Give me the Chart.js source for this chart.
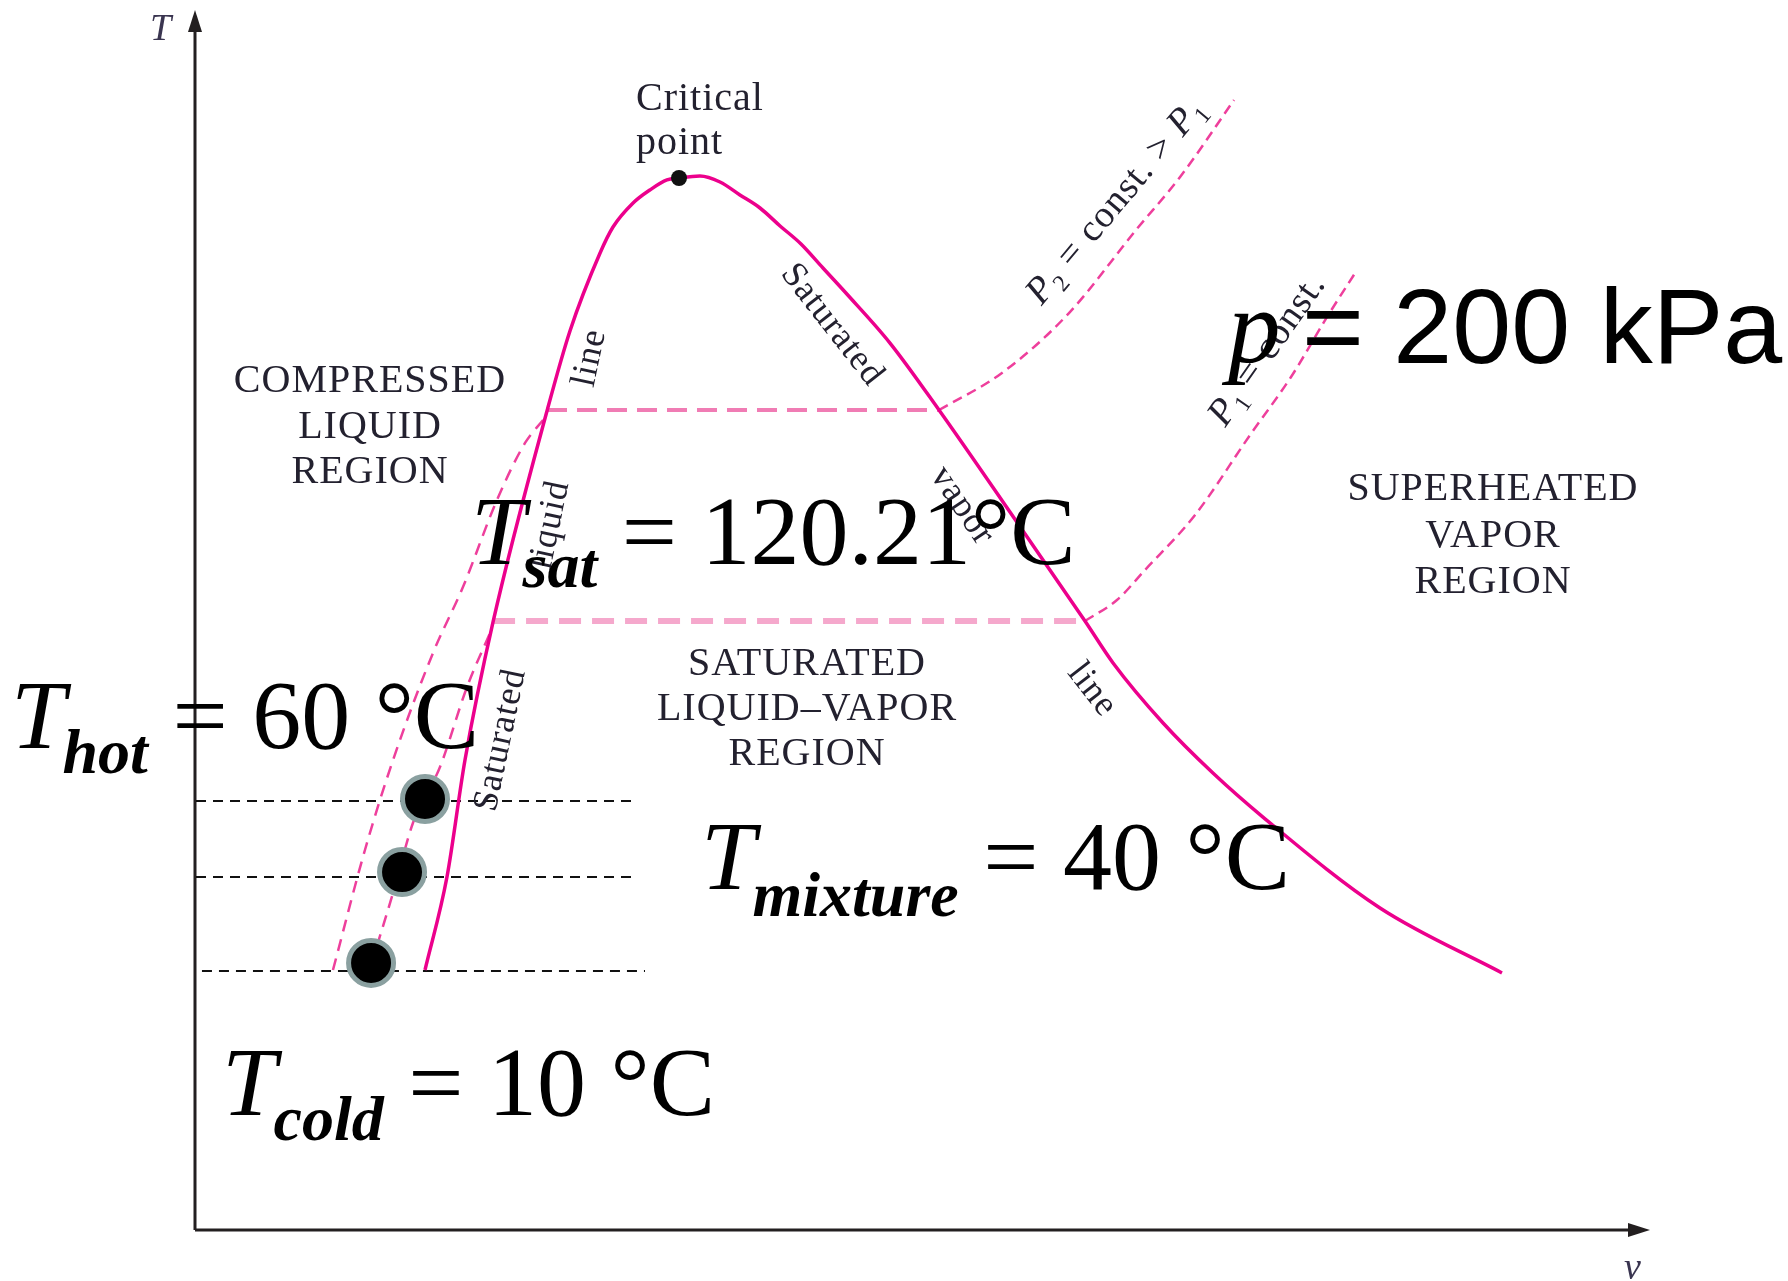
<!DOCTYPE html>
<html>
<head>
<meta charset="utf-8">
<script src="https://cdn.jsdelivr.net/npm/chart.js@4.4.1/dist/chart.umd.min.js"></script>
<style>
html,body{margin:0;padding:0;background:#fff;}
canvas{display:block;}
</style>
</head>
<body>
<canvas id="c" width="1788" height="1281"></canvas>
<script>
// ---------- DATA (specific volume v / temperature T, arbitrary units 0-100) ----------
// saturation dome (saturated liquid line -> critical point -> saturated vapor line)
const domeV = [15.75, 17.26, 18.50, 20.43, 24.14, 25.72, 27.79, 28.68, 30.06, 31.22, 32.39, 33.22, 34.66, 36.04, 37.41, 38.79, 40.17, 41.61, 43.12, 44.70, 47.73, 51.10, 55.98, 61.14, 63.07, 66.51, 69.94, 73.38, 81.43, 89.82];
const domeT = [21.31, 28.93, 38.52, 49.84, 67.13, 73.69, 80.08, 82.21, 84.18, 85.25, 86.07, 86.23, 86.39, 85.90, 84.84, 83.77, 82.30, 80.82, 78.85, 76.80, 72.70, 67.21, 58.85, 49.92, 46.48, 41.56, 37.46, 33.85, 26.39, 21.07];
// critical point
const critV = [33.22];
const critT = [86.23];
// P2 isobar: wet region and superheated region
const p2WetV = [24.14, 51.10];
const p2WetT = [67.21, 67.21];
const p2SupV = [51.10, 55.43, 60.04, 64.65, 67.68, 71.39];
const p2SupT = [67.21, 70.25, 75.16, 81.97, 86.31, 92.62];
// P1 isobar: wet region and superheated region
const p1WetV = [20.43, 61.14];
const p1WetT = [49.92, 49.92];
const p1SupV = [61.14, 63.34, 65.27, 68.71, 72.49, 75.31, 77.79, 79.85];
const p1SupT = [49.92, 51.64, 54.10, 58.61, 65.16, 69.92, 74.84, 78.69];
// compressed-liquid isobars (left of the dome)
const p2LiqV = [9.42, 11.62, 13.55, 16.30, 18.36, 20.70, 22.63, 23.87];
const p2LiqT = [21.31, 31.15, 38.52, 47.30, 52.70, 59.84, 64.51, 66.39];
const p1LiqV = [12.04, 13.55, 14.92, 16.78, 18.64, 20.31];
const p1LiqT = [21.72, 27.62, 33.36, 37.95, 44.51, 49.18];
// reference temperature levels (hot, mixture, cold)
const levelNames = ['hot', 'mixture', 'cold'];
const levelT = [35.16, 28.93, 21.23];
const levelStartV = [0, 0, 0.41];
const levelEndV = [30.33, 30.33, 30.88];
// state points (hot, mixture, cold)
const stateV = [15.75, 14.17, 12.04];
const stateT = [35.33, 29.34, 21.89];
// texts
const regionTexts = [
  ['COMPRESSED', 'LIQUID', 'REGION'],
  ['SATURATED', 'LIQUID–VAPOR', 'REGION'],
  ['SUPERHEATED', 'VAPOR', 'REGION']
];
const curveTexts = ['Saturated', 'liquid', 'line', 'Saturated', 'vapor', 'line'];
const tempSubs = ['sat', 'hot', 'mixture', 'cold'];
const tempValues = ['= 120.21°C', '= 60 °C', '= 40 °C', '= 10 °C'];
const pressureText = '= 200 kPa';
const axisLabels = ['T', 'v'];

// ---------- helpers ----------
const pts = (xs, ys) => xs.map((x, i) => ({x: x, y: ys[i]}));
const SERIF = '"Liberation Serif", "Times New Roman", Times, serif';
const SANS = '"Liberation Sans", Arial, Helvetica, sans-serif';
const MAG = '#ec008c';
const LABEL = '#23212f';

function lineDs(data, color, width, dash) {
  return {data: data, showLine: true, pointRadius: 0, borderColor: color, borderWidth: width,
          borderDash: dash || [], fill: false, cubicInterpolationMode: 'monotone', clip: false};
}

const datasets = [];
// topmost first (Chart.js draws dataset 0 last)
datasets.push({data: pts(stateV, stateT), showLine: false, pointRadius: 22.5, pointBackgroundColor: '#000',
               pointBorderColor: '#8aa0a0', pointBorderWidth: 5, clip: false});
datasets.push({data: pts(critV, critT), showLine: false, pointRadius: 8, pointBackgroundColor: '#111',
               pointBorderWidth: 0, clip: false});
datasets.push(lineDs(pts(domeV, domeT), MAG, 3.5));
for (let i = 0; i < levelNames.length; i++) {
  datasets.push(lineDs([{x: levelStartV[i], y: levelT[i]}, {x: levelEndV[i], y: levelT[i]}], '#111', 2, [10, 7]));
}
datasets.push(lineDs(pts(p2SupV, p2SupT), '#ee3f9c', 2.5, [10, 6]));
datasets.push(lineDs(pts(p1SupV, p1SupT), '#ee3f9c', 2.5, [10, 6]));
datasets.push(lineDs(pts(p2LiqV, p2LiqT), '#ee3f9c', 2.5, [12, 8]));
datasets.push(lineDs(pts(p1LiqV, p1LiqT), '#ee3f9c', 2.5, [12, 8]));
datasets.push(lineDs(pts(p2WetV, p2WetT), '#f07cb4', 4, [20, 10]));
datasets.push(lineDs(pts(p1WetV, p1WetT), '#f5a8cc', 6, [22, 11]));

function arrowHead(ctx, tipX, tipY, dirX, dirY, len, half) {
  const bx = tipX - dirX * len, by = tipY - dirY * len;
  ctx.beginPath();
  ctx.moveTo(tipX, tipY);
  ctx.lineTo(bx - dirY * half, by + dirX * half);
  ctx.lineTo(bx + dirY * half, by - dirX * half);
  ctx.closePath();
  ctx.fill();
}

function rotText(ctx, text, cx, cy, deg, font) {
  ctx.save();
  ctx.translate(cx, cy);
  ctx.rotate(deg * Math.PI / 180);
  ctx.font = font;
  ctx.textAlign = 'center';
  ctx.textBaseline = 'middle';
  ctx.fillText(text, 0, 0);
  ctx.restore();
}

function rotRuns(ctx, runs, cx, cy, deg) {
  ctx.save();
  ctx.translate(cx, cy);
  ctx.rotate(deg * Math.PI / 180);
  ctx.textAlign = 'left';
  ctx.textBaseline = 'alphabetic';
  let w = 0;
  runs.forEach(r => { ctx.font = r.font; w += ctx.measureText(r.t).width; });
  let x = -w / 2;
  runs.forEach(r => { ctx.font = r.font; ctx.fillText(r.t, x, 12 + (r.dy || 0)); x += ctx.measureText(r.t).width; });
  ctx.restore();
}

function tLabel(ctx, x, y, sub, rest, subDy) {
  ctx.textAlign = 'left';
  ctx.textBaseline = 'alphabetic';
  ctx.font = 'italic 98px ' + SERIF;
  ctx.fillText('T', x, y);
  let cx = x + ctx.measureText('T').width - 3;
  ctx.font = 'italic bold 64px ' + SERIF;
  ctx.fillText(sub, cx, y + subDy);
  cx += ctx.measureText(sub).width;
  ctx.font = '98px ' + SERIF;
  ctx.fillText(' ' + rest, cx, y);
}

const diagramPlugin = {
  id: 'diagram',
  beforeDatasetsDraw(chart) {
    const ctx = chart.ctx, a = chart.chartArea;
    ctx.save();
    ctx.strokeStyle = '#231f20';
    ctx.fillStyle = '#231f20';
    ctx.lineWidth = 3;
    ctx.beginPath();
    ctx.moveTo(a.left - 1, a.bottom);
    ctx.lineTo(a.left - 1, a.top + 18);
    ctx.moveTo(a.left - 1, a.bottom);
    ctx.lineTo(a.right - 18, a.bottom);
    ctx.stroke();
    arrowHead(ctx, a.left - 1, a.top, 0, -1, 22, 7);
    arrowHead(ctx, a.right, a.bottom, 1, 0, 22, 7);
    ctx.fillStyle = '#3a3550';
    ctx.font = 'italic 38px ' + SERIF;
    ctx.textAlign = 'left';
    ctx.textBaseline = 'alphabetic';
    ctx.fillText(axisLabels[0], 150, 40);
    ctx.fillText(axisLabels[1], 1624, 1279);
    ctx.restore();
  },
  afterDatasetsDraw(chart) {
    const ctx = chart.ctx;
    ctx.save();
    ctx.fillStyle = LABEL;
    try { ctx.letterSpacing = '1px'; } catch (e) {}
    // region labels
    const regionPos = [[370, 392, 45.5], [807, 675, 45], [1493, 500, 46.5]];
    ctx.font = '40px ' + SERIF;
    ctx.textAlign = 'center';
    ctx.textBaseline = 'alphabetic';
    regionTexts.forEach((lines, k) => {
      const p = regionPos[k];
      lines.forEach((t, j) => ctx.fillText(t, p[0], p[1] + j * p[2]));
    });
    // critical point
    ctx.textAlign = 'left';
    ctx.fillText('Critical', 636, 110);
    ctx.fillText('point', 636, 154);
    // curve labels
    const curvePos = [[501, 740, -78], [550, 525, -78], [590, 358, -78], [832, 325, 52], [962, 506, 56], [1092, 690, 52]];
    curveTexts.forEach((t, k) => rotText(ctx, t, curvePos[k][0], curvePos[k][1], curvePos[k][2], '36px ' + SERIF));
    // isobar labels
    const big = 'italic 38px ' + SERIF, reg = '38px ' + SERIF, sub = '24px ' + SERIF;
    rotRuns(ctx, [{t: 'P', font: big}, {t: '2', font: sub, dy: 8}, {t: ' = const. > ', font: reg},
                  {t: 'P', font: big}, {t: '1', font: sub, dy: 8}], 1115, 200, -50);
    rotRuns(ctx, [{t: 'P', font: big}, {t: '1', font: sub, dy: 8}, {t: ' = const.', font: reg}], 1266, 349, -55);
    try { ctx.letterSpacing = '0px'; } catch (e) {}
    // big annotations
    ctx.fillStyle = '#000';
    const tPos = [[471, 564, 23], [11, 748, 25], [701, 889, 27], [222, 1115, 25]];
    tempSubs.forEach((s, k) => tLabel(ctx, tPos[k][0], tPos[k][1], s, tempValues[k], tPos[k][2]));
    ctx.textAlign = 'left';
    ctx.font = 'italic 105px ' + SERIF;
    ctx.fillText('p', 1228, 362);
    ctx.font = '106px ' + SANS;
    ctx.fillText(pressureText, 1302, 363);
    ctx.restore();
  }
};

new Chart(document.getElementById('c'), {
  type: 'scatter',
  data: {datasets: datasets},
  options: {
    responsive: false,
    devicePixelRatio: 1,
    animation: false,
    events: [],
    layout: {autoPadding: false, padding: {left: 196, right: 138, top: 10, bottom: 51}},
    scales: {
      x: {type: 'linear', min: 0, max: 100, display: false},
      y: {type: 'linear', min: 0, max: 100, display: false}
    },
    plugins: {legend: {display: false}, tooltip: {enabled: false}}
  },
  plugins: [diagramPlugin]
});
</script>
</body>
</html>
